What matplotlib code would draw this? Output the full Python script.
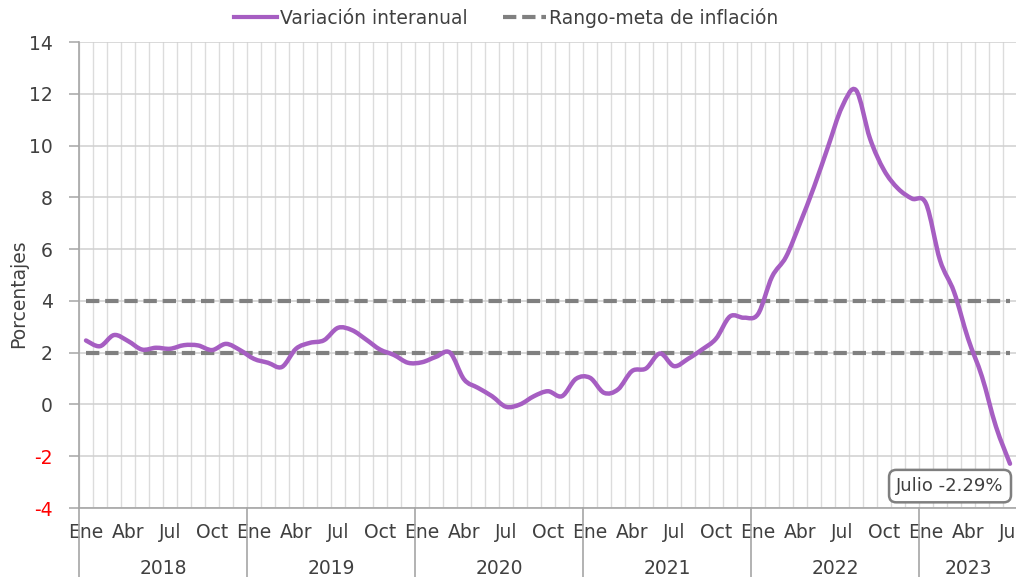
import numpy as np
import matplotlib.pyplot as plt
import matplotlib.transforms as mtransforms
from matplotlib.path import Path
from matplotlib.patches import PathPatch
from matplotlib.lines import Line2D

plt.rcParams['font.family'] = ['DejaVu Sans']
plt.rcParams['axes.unicode_minus'] = False

# Variación interanual mensual, Ene 2018 - Jul 2023 (porcentajes)
anios = ['2018', '2019', '2020', '2021', '2022', '2023']
meses_etiqueta = ['Ene', 'Abr', 'Jul', 'Oct']
inflacion = [
    2.47, 2.25, 2.68, 2.45, 2.12, 2.19, 2.15, 2.29, 2.28, 2.10, 2.34, 2.10,   # 2018
    1.76, 1.61, 1.45, 2.15, 2.38, 2.48, 2.96, 2.87, 2.51, 2.12, 1.91, 1.61,   # 2019
    1.63, 1.84, 2.00, 0.97, 0.64, 0.32, -0.09, 0.00, 0.32, 0.51, 0.32, 0.99,  # 2020
    1.03, 0.45, 0.58, 1.29, 1.39, 1.97, 1.48, 1.76, 2.12, 2.54, 3.40, 3.35,   # 2021
    3.49, 4.93, 5.70, 7.00, 8.40, 9.95, 11.49, 12.14, 10.27, 9.05, 8.34, 7.95,  # 2022
    7.76, 5.57, 4.35, 2.55, 1.07, -0.86, -2.29,                              # 2023
]
meta_baja = 2
meta_alta = 4
nota = 'Julio -2.29%'

morado = '#A65EC2'
gris = '#808080'
texto = '#404040'
fs = 13.5

fig = plt.figure(figsize=(10.16, 5.77), dpi=100)
ax = fig.add_axes([79 / 1016, 69 / 577, 938 / 1016, 466 / 577])

n = len(inflacion)
x = np.arange(n)
y = np.array(inflacion)

# linea suavizada (bezier tipo Excel)
verts = [(x[0], y[0])]
codes = [Path.MOVETO]
for i in range(n - 1):
    p0 = np.array([x[max(i - 1, 0)], y[max(i - 1, 0)]])
    p1 = np.array([x[i], y[i]])
    p2 = np.array([x[i + 1], y[i + 1]])
    p3 = np.array([x[min(i + 2, n - 1)], y[min(i + 2, n - 1)]])
    c1 = p1 + (p2 - p0) / 6
    c2 = p2 - (p3 - p1) / 6
    verts += [tuple(c1), tuple(c2), tuple(p2)]
    codes += [Path.CURVE4] * 3
ax.add_patch(PathPatch(Path(verts, codes), fill=False, edgecolor=morado,
                       lw=3.2, zorder=4, capstyle='round', joinstyle='round'))

ax.plot([x[0], x[-1]], [meta_alta, meta_alta], color=gris, lw=3,
        dashes=(3.2, 1.4), zorder=3)
ax.plot([x[0], x[-1]], [meta_baja, meta_baja], color=gris, lw=3,
        dashes=(3.2, 1.4), zorder=3)

ax.set_xlim(-0.5, n - 0.5)
ax.set_ylim(-4, 14)
ax.set_yticks(np.arange(-4, 15, 2))

# ejes y rejilla
pos_major = [i for i in range(n) if i % 12 in (0, 3, 6, 9)]
ax.set_xticks(pos_major)
ax.set_xticklabels([meses_etiqueta[(i % 12) // 3] for i in pos_major])
ax.set_xticks(np.arange(-0.5, n, 1), minor=True)
ax.tick_params(axis='x', which='both', length=0, pad=11, labelsize=fs,
               labelcolor=texto)
ax.tick_params(axis='y', length=7, width=1.1, color='#A6A6A6', pad=12,
               labelsize=fs, labelcolor=texto)
ax.grid(axis='x', which='minor', color='#DCDCDC', lw=1.0)
ax.grid(axis='y', which='major', color='#D0D0D0', lw=1.1)
ax.set_axisbelow(True)
for s in ['top', 'right']:
    ax.spines[s].set_visible(False)
for s in ['left', 'bottom']:
    ax.spines[s].set_color('#A6A6A6')
    ax.spines[s].set_linewidth(1.2)

for lbl, v in zip(ax.get_yticklabels(), ax.get_yticks()):
    if v < 0:
        lbl.set_color('#FF0000')

ax.set_ylabel('Porcentajes', fontsize=fs, color=texto)
ax.yaxis.set_label_coords(-0.054, 0.46)

# separadores y etiquetas de año
trans = mtransforms.blended_transform_factory(ax.transData, ax.transAxes)
for k, anio in enumerate(anios):
    ini = 12 * k - 0.5
    fin = min(12 * (k + 1), n) - 0.5
    ax.plot([ini, ini], [0, -0.15], transform=trans, color='#A6A6A6',
            lw=1.2, clip_on=False)
    ax.text((ini + fin) / 2, -0.129, anio, transform=trans, ha='center',
            va='center', fontsize=fs, color=texto)

ax.text(0.9286, 0.047, nota, transform=ax.transAxes, ha='center',
        va='center', fontsize=13, color=texto, zorder=6,
        bbox=dict(boxstyle='round,pad=0.4,rounding_size=0.4', fc='white',
                  ec='#7F7F7F', lw=1.8))

handles = [Line2D([], [], color=morado, lw=3),
           Line2D([], [], color=gris, lw=3, dashes=(3.2, 1.4))]
fig.legend(handles, ['Variación interanual', 'Rango-meta de inflación'],
           loc='center', bbox_to_anchor=(0.498, 1 - 18 / 577), ncol=2,
           frameon=False, fontsize=fs, handlelength=2.3, handletextpad=0.15,
           columnspacing=1.9, labelcolor=texto)

fig.savefig('out.png', dpi=100)
